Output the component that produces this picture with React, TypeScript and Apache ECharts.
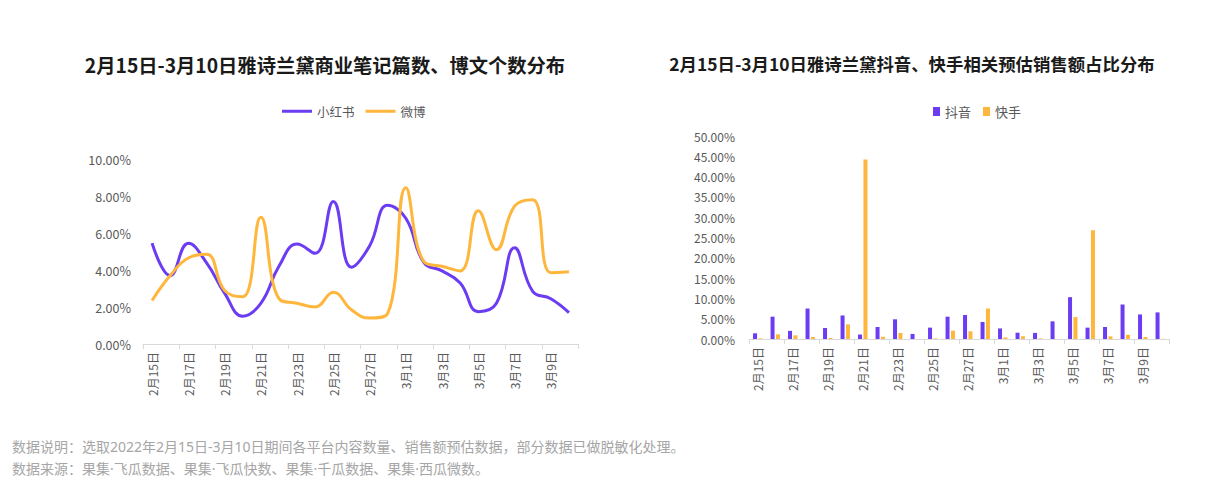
import React, { useEffect, useRef } from "react";
import * as echarts from "echarts";

const dates = [
  "2月15日", "2月16日", "2月17日", "2月18日", "2月19日", "2月20日", "2月21日", "2月22日",
  "2月23日", "2月24日", "2月25日", "2月26日", "2月27日", "2月28日", "3月1日", "3月2日",
  "3月3日", "3月4日", "3月5日", "3月6日", "3月7日", "3月8日", "3月9日", "3月10日",
];

const xiaohongshu = [5.45, 3.7, 5.45, 4.4, 2.75, 1.5, 2.2, 4.2, 5.4, 4.9, 7.7, 4.15, 5.3, 7.5, 6.8, 4.4, 3.95, 3.3, 1.75, 2.2, 5.2, 2.85, 2.45, 1.7];
const weibo = [2.35, 3.7, 4.65, 4.85, 2.9, 2.55, 6.85, 2.45, 2.2, 2.0, 2.8, 1.85, 1.4, 1.65, 8.45, 4.45, 4.2, 3.95, 7.2, 5.1, 7.45, 7.8, 3.85, 3.9];

const douyin = [1.4, 5.5, 2.0, 7.5, 2.7, 5.8, 1.1, 2.95, 4.85, 1.25, 2.8, 5.5, 5.9, 4.2, 2.6, 1.55, 1.5, 4.35, 10.3, 2.8, 2.95, 8.5, 6.05, 6.55];
const kuaishou = [0.15, 1.15, 0.9, 0.5, 0.25, 3.6, 44.2, 0.55, 1.5, 0, 0.15, 2.05, 1.9, 7.5, 0.4, 0.65, 0.15, 0, 5.4, 26.8, 0.65, 1.05, 0.5, 0.05];

const leftTitle = "2月15日-3月10日雅诗兰黛商业笔记篇数、博文个数分布";
const rightTitle = "2月15日-3月10日雅诗兰黛抖音、快手相关预估销售额占比分布";
const note1 = "数据说明：选取2022年2月15日-3月10日期间各平台内容数量、销售额预估数据，部分数据已做脱敏化处理。";
const note2 = "数据来源：果集\u00B7飞瓜数据、果集\u00B7飞瓜快数、果集\u00B7千瓜数据、果集\u00B7西瓜微数。";

const PURPLE = "#6B3CF2";
const ORANGE = "#FFB63D";
const FONT = "'Noto Sans CJK SC', 'Noto Sans', sans-serif";
const NOTE_FONT = "'Noto Sans', 'Noto Sans CJK SC', sans-serif";
const AXIS_TEXT = "#595959";

export default function App() {
  const ref = useRef<HTMLDivElement>(null);
  useEffect(() => {
    document.body.style.margin = "0";
    const chart = echarts.init(ref.current!, null, { renderer: "svg" });
    const xAxisCommon = {
      type: "category" as const,
      data: dates,
      boundaryGap: true,
      axisLine: { lineStyle: { color: "#d9d9d9", width: 1 } },
      axisTick: { show: true, interval: 1, lineStyle: { color: "#d9d9d9" } },
      axisLabel: { interval: 1, rotate: 90, color: AXIS_TEXT, fontSize: 12, fontFamily: FONT, margin: 8 },
    };
    const yLabel = (v: number) => v.toFixed(2) + "%";
    chart.setOption({
      animation: false,
      textStyle: { fontFamily: FONT },
      title: [
        {
          text: leftTitle, left: 320, top: 50, textAlign: "center",
          textStyle: { fontSize: 19.3, fontWeight: "bold", color: "#1a1a1a", fontFamily: FONT },
        },
        {
          text: rightTitle, left: 907, top: 50, textAlign: "center",
          textStyle: { fontSize: 17.4, fontWeight: "bold", color: "#1a1a1a", fontFamily: FONT },
        },
      ],
      legend: [
        {
          data: ["小红书", "微博"], left: 277, top: 100, itemWidth: 30, itemHeight: 3, itemGap: 11,
          icon: "rect",
          textStyle: { color: AXIS_TEXT, fontSize: 12.5, fontFamily: FONT },
        },
        {
          data: ["抖音", "快手"], left: 928, top: 100, itemWidth: 7, itemHeight: 9, itemGap: 12,
          icon: "rect",
          textStyle: { color: AXIS_TEXT, fontSize: 13, fontFamily: FONT },
        },
      ],
      grid: [
        { left: 143, right: 652, top: 159, bottom: 142 },
        { left: 749, right: 61, top: 136, bottom: 147 },
      ],
      xAxis: [
        { ...xAxisCommon, gridIndex: 0 },
        { ...xAxisCommon, gridIndex: 1 },
      ],
      yAxis: [
        {
          type: "value", gridIndex: 0, min: 0, max: 10, interval: 2,
          splitLine: { show: false }, axisLine: { show: false }, axisTick: { show: false },
          axisLabel: { formatter: yLabel, color: AXIS_TEXT, fontSize: 12.5, fontFamily: FONT, margin: 12 },
        },
        {
          type: "value", gridIndex: 1, min: 0, max: 50, interval: 5,
          splitLine: { show: false }, axisLine: { show: false }, axisTick: { show: false },
          axisLabel: { formatter: yLabel, color: AXIS_TEXT, fontSize: 12, fontFamily: FONT, margin: 14 },
        },
      ],
      series: [
        {
          name: "小红书", type: "line", xAxisIndex: 0, yAxisIndex: 0, data: xiaohongshu,
          smooth: 0.45, showSymbol: false, symbol: "none",
          lineStyle: { color: PURPLE, width: 3 }, itemStyle: { color: PURPLE },
        },
        {
          name: "微博", type: "line", xAxisIndex: 0, yAxisIndex: 0, data: weibo,
          smooth: 0.45, showSymbol: false, symbol: "none",
          lineStyle: { color: ORANGE, width: 3 }, itemStyle: { color: ORANGE },
        },
        {
          name: "抖音", type: "bar", xAxisIndex: 1, yAxisIndex: 1, data: douyin,
          barWidth: 4, barGap: "35%", itemStyle: { color: PURPLE },
        },
        {
          name: "快手", type: "bar", xAxisIndex: 1, yAxisIndex: 1, data: kuaishou,
          barWidth: 4, barGap: "35%", itemStyle: { color: ORANGE },
        },
      ],
      graphic: [
        {
          type: "text", left: 12, top: 439,
          style: { text: note1, fill: "#a6a6a6", fontSize: 14, fontFamily: NOTE_FONT },
        },
        {
          type: "text", left: 12, top: 461,
          style: { text: note2, fill: "#a6a6a6", fontSize: 14, fontFamily: NOTE_FONT },
        },
      ],
    });
    return () => chart.dispose();
  }, []);
  return <div ref={ref} style={{ width: 1230, height: 486 }} />;
}
